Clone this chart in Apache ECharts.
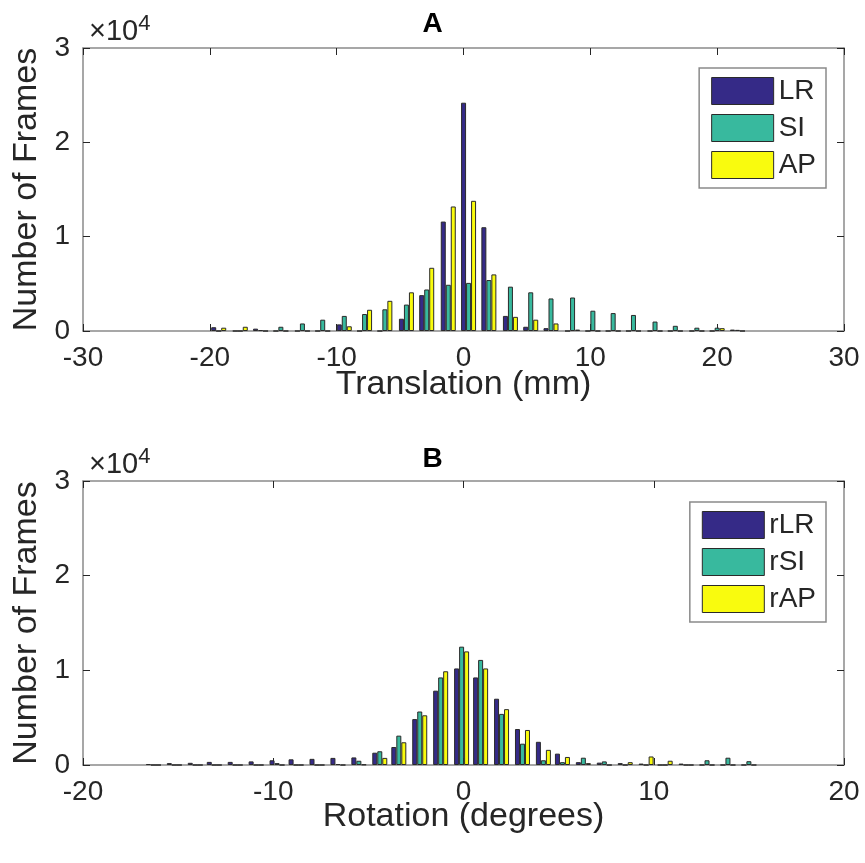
<!DOCTYPE html>
<html><head><meta charset="utf-8">
<script src="https://cdn.jsdelivr.net/npm/echarts@6/dist/echarts.min.js"></script>
<style>html,body{margin:0;padding:0;background:#fff}#c{width:865px;height:863px}</style>
</head><body><div id="c"></div>
<script>
// ---- Panel A: translation histogram (bin centres in mm, counts in frames)
const transBins = [-19.3,-17.6,-16.0,-14.4,-12.7,-11.1,-9.4,-7.8,-6.2,-4.5,-2.9,-1.2,0.4,2.0,3.7,5.3,6.9,8.6,10.2,11.8,13.4,15.1,16.7,18.4,20.0,21.6];
const transLR = [400,0,250,0,0,0,700,0,0,1300,3800,11600,24200,11000,1600,450,300,0,0,0,0,0,0,0,0,150];
const transSI = [0,0,100,450,800,1200,1600,1800,2300,2800,4400,4900,5100,5400,4700,4100,3450,3550,2150,1900,1700,1000,550,350,350,120];
const transAP = [350,450,0,0,0,0,500,2250,3200,4100,6700,13200,13800,6000,1500,1200,800,150,0,0,0,0,0,0,300,0];

// ---- Panel B: rotation histogram (bin centres in degrees)
const rotBins = [-16.3,-15.2,-14.1,-13.1,-12.0,-10.9,-9.8,-8.8,-7.7,-6.6,-5.5,-4.4,-3.4,-2.3,-1.2,-0.1,0.9,2.0,3.1,4.2,5.2,6.3,7.4,8.5,9.6,10.6,11.7,12.8,13.9,15.0];
const rotLR = [100,200,230,330,330,380,500,600,650,750,800,1300,1900,4850,7850,10200,9250,7000,3800,2450,1200,300,250,200,150,0,150,0,0,0];
const rotSI = [0,0,0,0,0,0,200,0,0,100,450,1450,3100,5650,9250,12500,11100,5400,2250,500,300,770,380,0,0,0,0,500,770,400];
const rotAP = [0,0,0,0,0,0,0,0,0,0,50,750,2400,5250,9900,12000,10200,5900,3700,1600,850,200,0,300,900,450,0,0,0,0];

const yTickLabels = ['0','1','2','3'];
const seriesNamesA = ['LR','SI','AP'];
const seriesNamesB = ['rLR','rSI','rAP'];
const colors = ['#352a87','#38b99e','#f9fb0e'];

const FONT = 'Liberation Sans, Arial, Helvetica, sans-serif';
const AXIS_GRAY = '#8a8a8a';
const TEXT = '#262626';

function pairs(xs, ys){ return xs.map((x,i)=>[x, ys[i]]); }

function mainX(grid, min, max, name, gap){
  return {type:'value', gridIndex:grid, min:min, max:max, interval:10, position:'bottom',
    name:name, nameLocation:'middle', nameGap:gap, nameMoveOverlap:false,
    nameTextStyle:{fontFamily:FONT, fontSize:34, color:TEXT},
    axisLine:{show:true, onZero:false, lineStyle:{color:AXIS_GRAY, width:1.5}},
    axisTick:{show:true, inside:true, length:7, lineStyle:{color:TEXT, width:1}},
    axisLabel:{fontFamily:FONT, fontSize:28, color:TEXT, margin:13},
    splitLine:{show:false}};
}
function boxX(grid, min, max){
  return {type:'value', gridIndex:grid, min:min, max:max, interval:10, position:'top',
    axisLine:{show:true, onZero:false, lineStyle:{color:AXIS_GRAY, width:1.5}},
    axisTick:{show:true, inside:true, length:7, lineStyle:{color:TEXT, width:1}},
    axisLabel:{show:false}, splitLine:{show:false}};
}
function mainY(grid){
  return {type:'value', gridIndex:grid, min:0, max:30000, interval:10000, position:'left',
    name:'Number of Frames', nameLocation:'middle', nameGap:38,
    nameTextStyle:{fontFamily:FONT, fontSize:34, color:TEXT},
    axisLine:{show:true, onZero:false, lineStyle:{color:AXIS_GRAY, width:1.5}},
    axisTick:{show:true, inside:true, length:7, lineStyle:{color:TEXT, width:1}},
    axisLabel:{fontFamily:FONT, fontSize:28, color:TEXT, margin:13,
      formatter:v=>yTickLabels[Math.round(v/10000)]},
    splitLine:{show:false}};
}
function boxY(grid){
  return {type:'value', gridIndex:grid, min:0, max:30000, interval:10000, position:'right',
    axisLine:{show:true, onZero:false, lineStyle:{color:AXIS_GRAY, width:1.5}},
    axisTick:{show:true, inside:true, length:7, lineStyle:{color:TEXT, width:1}},
    axisLabel:{show:false}, splitLine:{show:false}};
}
function barSeries(name, data, color, axisIdx){
  return {type:'bar', name:name, xAxisIndex:axisIdx, yAxisIndex:axisIdx,
    data:data, barWidth:5, barGap:'0%',
    itemStyle:{color:color, borderColor:'#2a2a2a', borderWidth:1},
    emphasis:{disabled:true}, animation:false};
}
function legendFor(names, top){
  return {data:names, orient:'vertical', right:39, top:top,
    icon:'rect', itemWidth:62, itemHeight:27, itemGap:9,
    padding:[9,10,9,12],
    backgroundColor:'#fff', borderColor:AXIS_GRAY, borderWidth:1.5,
    textStyle:{fontFamily:FONT, fontSize:28, color:TEXT},
    itemStyle:{borderColor:'#2a2a2a', borderWidth:1}};
}
function expTitle(top){
  return {text:'×10{s|4}', left:84, top:top, textStyle:{fontFamily:FONT, fontSize:29, fontWeight:'normal', color:TEXT,
    rich:{s:{fontFamily:FONT, fontSize:22, color:TEXT, verticalAlign:'top', padding:[0,0,16,0]}}}};
}

const chart = echarts.init(document.getElementById('c'), null, {renderer:'canvas'});
chart.setOption({
  backgroundColor:'#fff',
  animation:false,
  title:[
    {text:'A', left:'center', top:5, textStyle:{fontFamily:FONT, fontSize:28, fontWeight:'bold', color:'#000'}},
    {text:'B', left:'center', top:440, textStyle:{fontFamily:FONT, fontSize:28, fontWeight:'bold', color:'#000'}},
    expTitle(8),
    expTitle(441)
  ],
  grid:[
    {left:83, right:21, top:48, height:283, containLabel:false},
    {left:83, right:21, top:481, height:284, containLabel:false}
  ],
  legend:[legendFor(seriesNamesA, 68), legendFor(seriesNamesB, 502)],
  xAxis:[mainX(0,-30,30,'Translation (mm)',37), boxX(0,-30,30), mainX(1,-20,20,'Rotation (degrees)',35), boxX(1,-20,20)],
  yAxis:[mainY(0), boxY(0), mainY(1), boxY(1)],
  series:[
    barSeries(seriesNamesA[0], pairs(transBins, transLR), colors[0], 0),
    barSeries(seriesNamesA[1], pairs(transBins, transSI), colors[1], 0),
    barSeries(seriesNamesA[2], pairs(transBins, transAP), colors[2], 0),
    barSeries(seriesNamesB[0], pairs(rotBins, rotLR), colors[0], 2),
    barSeries(seriesNamesB[1], pairs(rotBins, rotSI), colors[1], 2),
    barSeries(seriesNamesB[2], pairs(rotBins, rotAP), colors[2], 2)
  ]
});
</script>
</body></html>
